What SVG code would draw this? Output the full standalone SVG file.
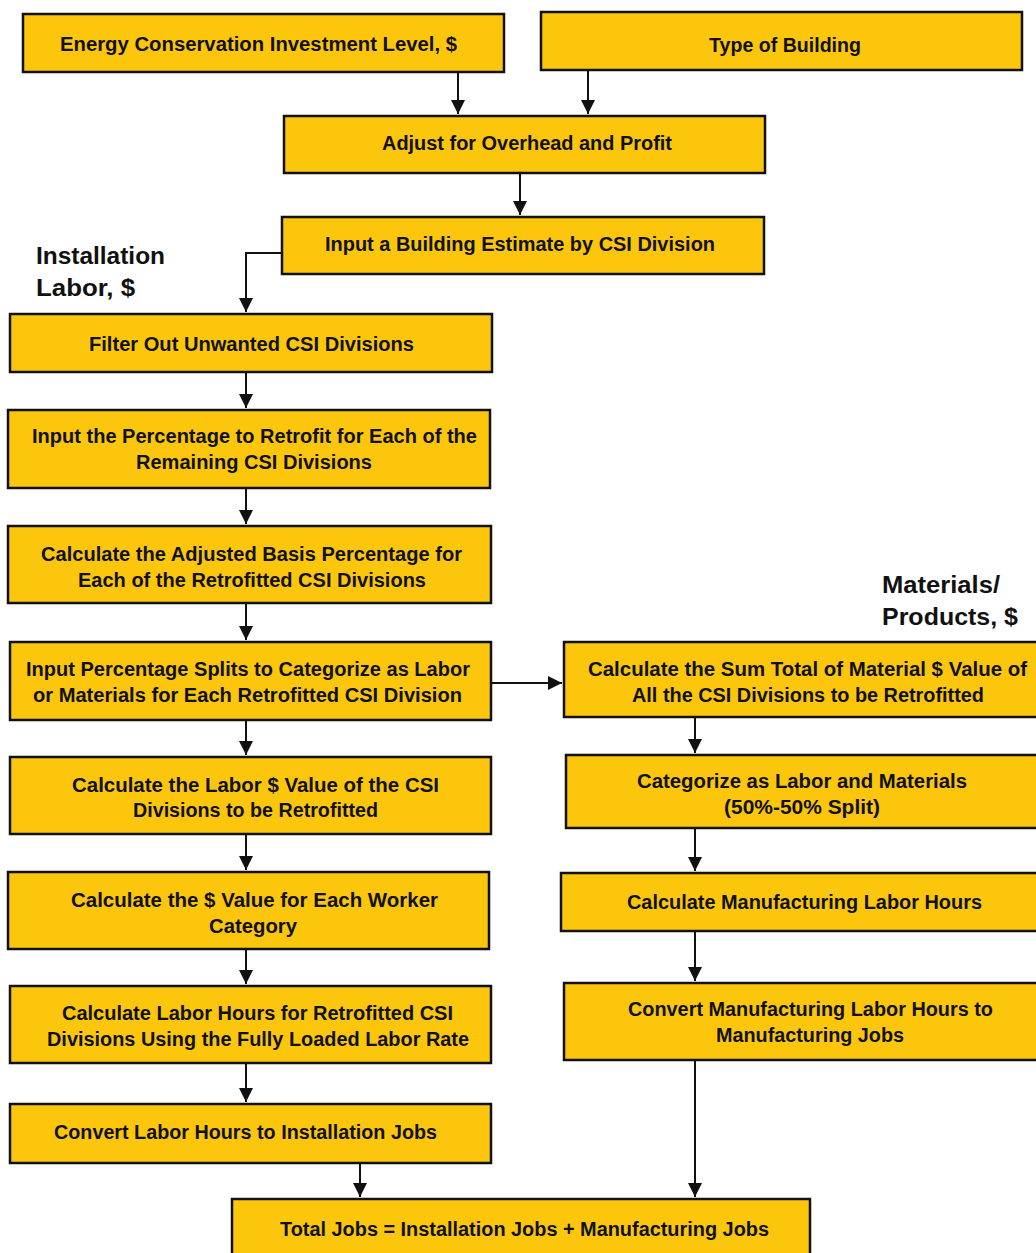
<svg xmlns="http://www.w3.org/2000/svg" width="1036" height="1253" viewBox="0 0 1036 1253">
<style>
.box{fill:#FCC60C;stroke:#111;stroke-width:2.5}
.t{font-family:"Liberation Sans",Arial,sans-serif;font-weight:bold;font-size:20px;fill:#111;text-anchor:middle}
.lbl{font-family:"Liberation Sans",Arial,sans-serif;font-weight:bold;font-size:24px;fill:#111}
.c{fill:none;stroke:#111;stroke-width:2}
</style>
<defs>
<marker id="ah" markerUnits="userSpaceOnUse" viewBox="0 0 14 14" refX="14" refY="7" markerWidth="14" markerHeight="14" orient="auto">
<path d="M0,0 L14,7 L0,14 z" fill="#111"/>
</marker>
</defs>
<rect width="1036" height="1253" fill="#fff"/>

<g id="labels">
<text class="lbl" x="36" y="264" textLength="129" lengthAdjust="spacingAndGlyphs">Installation</text>
<text class="lbl" x="36" y="296" textLength="99" lengthAdjust="spacingAndGlyphs">Labor, $</text>
<text class="lbl" x="882" y="593" textLength="118" lengthAdjust="spacingAndGlyphs">Materials/</text>
<text class="lbl" x="882" y="625" textLength="136" lengthAdjust="spacingAndGlyphs">Products, $</text>
</g>

<g id="connectors">
<path class="c" d="M458,72 V114" marker-end="url(#ah)"/>
<path class="c" d="M588,70 V114" marker-end="url(#ah)"/>
<path class="c" d="M520,173 V215" marker-end="url(#ah)"/>
<path class="c" d="M282,253 H246 V312" marker-end="url(#ah)"/>
<path class="c" d="M246,372 V408" marker-end="url(#ah)"/>
<path class="c" d="M246,488 V524" marker-end="url(#ah)"/>
<path class="c" d="M246,603 V640" marker-end="url(#ah)"/>
<path class="c" d="M246,720 V755" marker-end="url(#ah)"/>
<path class="c" d="M246,834 V870" marker-end="url(#ah)"/>
<path class="c" d="M246,949 V984" marker-end="url(#ah)"/>
<path class="c" d="M246,1063 V1102" marker-end="url(#ah)"/>
<path class="c" d="M360,1163 V1197" marker-end="url(#ah)"/>
<path class="c" d="M491,683 H562" marker-end="url(#ah)"/>
<path class="c" d="M695,717 V753" marker-end="url(#ah)"/>
<path class="c" d="M695,828 V871" marker-end="url(#ah)"/>
<path class="c" d="M695,931 V981" marker-end="url(#ah)"/>
<path class="c" d="M695,1060 V1197" marker-end="url(#ah)"/>
</g>

<g id="n1"><rect class="box" x="23" y="14" width="481" height="58"/>
<text class="t" x="258.5" y="51" textLength="397" lengthAdjust="spacingAndGlyphs">Energy Conservation Investment Level, $</text></g>
<g id="n2"><rect class="box" x="541" y="12" width="481" height="58"/>
<text class="t" x="785" y="52" textLength="152" lengthAdjust="spacingAndGlyphs">Type of Building</text></g>
<g id="n3"><rect class="box" x="284" y="116" width="481" height="57"/>
<text class="t" x="527" y="150" textLength="290" lengthAdjust="spacingAndGlyphs">Adjust for Overhead and Profit</text></g>
<g id="n4"><rect class="box" x="282" y="217" width="482" height="57"/>
<text class="t" x="520" y="251" textLength="390" lengthAdjust="spacingAndGlyphs">Input a Building Estimate by CSI Division</text></g>
<g id="n5"><rect class="box" x="10" y="314" width="482" height="58"/>
<text class="t" x="251.5" y="351" textLength="325" lengthAdjust="spacingAndGlyphs">Filter Out Unwanted CSI Divisions</text></g>
<g id="n6"><rect class="box" x="8" y="410" width="482" height="78"/>
<text class="t" x="254.5" y="443" textLength="445" lengthAdjust="spacingAndGlyphs">Input the Percentage to Retrofit for Each of the</text>
<text class="t" x="254" y="469" textLength="236" lengthAdjust="spacingAndGlyphs">Remaining CSI Divisions</text></g>
<g id="n7"><rect class="box" x="8" y="526" width="483" height="77"/>
<text class="t" x="251.5" y="561" textLength="421" lengthAdjust="spacingAndGlyphs">Calculate the Adjusted Basis Percentage for</text>
<text class="t" x="252" y="587" textLength="348" lengthAdjust="spacingAndGlyphs">Each of the Retrofitted CSI Divisions</text></g>
<g id="n8"><rect class="box" x="10" y="642" width="481" height="78"/>
<text class="t" x="248" y="676" textLength="444" lengthAdjust="spacingAndGlyphs">Input Percentage Splits to Categorize as Labor</text>
<text class="t" x="247.5" y="702" textLength="429" lengthAdjust="spacingAndGlyphs">or Materials for Each Retrofitted CSI Division</text></g>
<g id="n9"><rect class="box" x="10" y="757" width="481" height="77"/>
<text class="t" x="255.5" y="792" textLength="367" lengthAdjust="spacingAndGlyphs">Calculate the Labor $ Value of the CSI</text>
<text class="t" x="255.5" y="817" textLength="245" lengthAdjust="spacingAndGlyphs">Divisions to be Retrofitted</text></g>
<g id="n10"><rect class="box" x="8" y="872" width="481" height="77"/>
<text class="t" x="254.5" y="907" textLength="367" lengthAdjust="spacingAndGlyphs">Calculate the $ Value for Each Worker</text>
<text class="t" x="253" y="933" textLength="88" lengthAdjust="spacingAndGlyphs">Category</text></g>
<g id="n11"><rect class="box" x="10" y="986" width="481" height="77"/>
<text class="t" x="257.5" y="1020" textLength="391" lengthAdjust="spacingAndGlyphs">Calculate Labor Hours for Retrofitted CSI</text>
<text class="t" x="258" y="1046" textLength="422" lengthAdjust="spacingAndGlyphs">Divisions Using the Fully Loaded Labor Rate</text></g>
<g id="n12"><rect class="box" x="10" y="1104" width="481" height="59"/>
<text class="t" x="245.5" y="1139" textLength="383" lengthAdjust="spacingAndGlyphs">Convert Labor Hours to Installation Jobs</text></g>
<g id="n13"><rect class="box" x="232" y="1199" width="578" height="62"/>
<text class="t" x="524.5" y="1236" textLength="489" lengthAdjust="spacingAndGlyphs">Total Jobs = Installation Jobs + Manufacturing Jobs</text></g>
<g id="n14"><rect class="box" x="564" y="642" width="480" height="75"/>
<text class="t" x="807.5" y="676" textLength="439" lengthAdjust="spacingAndGlyphs">Calculate the Sum Total of Material $ Value of</text>
<text class="t" x="808" y="702" textLength="352" lengthAdjust="spacingAndGlyphs">All the CSI Divisions to be Retrofitted</text></g>
<g id="n15"><rect class="box" x="566" y="755" width="480" height="73"/>
<text class="t" x="802" y="788" textLength="330" lengthAdjust="spacingAndGlyphs">Categorize as Labor and Materials</text>
<text class="t" x="802" y="814" textLength="156" lengthAdjust="spacingAndGlyphs">(50%-50% Split)</text></g>
<g id="n16"><rect class="box" x="561" y="873" width="485" height="58"/>
<text class="t" x="804.5" y="909" textLength="355" lengthAdjust="spacingAndGlyphs">Calculate Manufacturing Labor Hours</text></g>
<g id="n17"><rect class="box" x="564" y="983" width="482" height="77"/>
<text class="t" x="810.5" y="1016" textLength="365" lengthAdjust="spacingAndGlyphs">Convert Manufacturing Labor Hours to</text>
<text class="t" x="810" y="1042" textLength="188" lengthAdjust="spacingAndGlyphs">Manufacturing Jobs</text></g>
</svg>
